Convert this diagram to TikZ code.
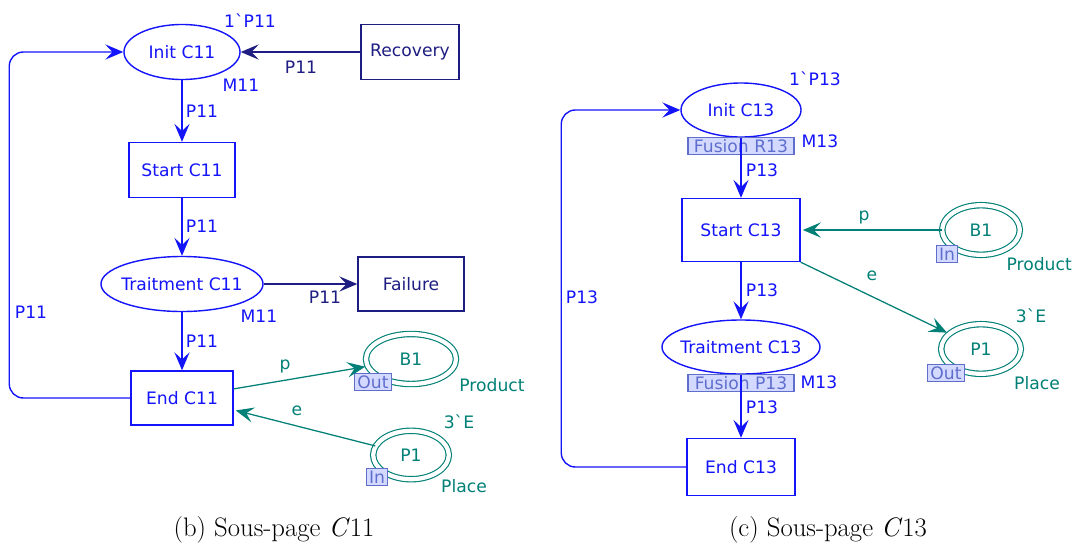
\documentclass[tikz,border=0pt]{standalone}
\usepackage{fontspec}
\newfontfamily\cpnfont{DejaVu Sans}[Ligatures=TeXOff]
\usepackage{tikz}
\usetikzlibrary{shapes.geometric, arrows.meta, positioning, calc}
\definecolor{CPNBlue}{RGB}{20, 20, 250}
\definecolor{CPNNavy}{RGB}{30, 30, 130}
\definecolor{CPNTeal}{RGB}{0, 128, 118}
\definecolor{CPNTagFill}{RGB}{212, 218, 255}
\definecolor{CPNTagLine}{RGB}{95, 110, 205}

\tikzset{
  cpn/.style={font=\cpnfont\fontsize{12.2}{14}\selectfont},
  place/.style={cpn, ellipse, draw=CPNBlue, line width=1pt, text=CPNBlue, inner xsep=-0.4cm, inner ysep=0pt},
  trans/.style={cpn, rectangle, draw=CPNBlue, line width=1pt, text=CPNBlue, inner sep=0pt},
  navytrans/.style={trans, draw=CPNNavy, text=CPNNavy},
  portplace/.style={cpn, ellipse, draw=CPNTeal, double=white, double distance=3pt,
                    line width=0.8pt, text=CPNTeal, inner sep=0pt},
  porttag/.style={cpn, draw=CPNTagLine, fill=CPNTagFill, text=CPNTagLine, line width=0.8pt,
                  inner xsep=2pt, inner ysep=0pt, minimum height=0.43cm},
  arc/.style={draw=CPNBlue, line width=1pt, -{Stealth[length=4.5mm, width=3.8mm, inset=1.8mm]}},
  navyarc/.style={arc, draw=CPNNavy, fill=CPNNavy},
  tealarc/.style={arc, draw=CPNTeal, line width=0.9pt, shorten >=1.5pt},
  lbl/.style={cpn, text=CPNBlue, inner sep=0pt},
  navylbl/.style={lbl, text=CPNNavy},
  teallbl/.style={lbl, text=CPNTeal},
  caption/.style={font=\fontsize{19}{23}\selectfont, inner sep=0pt}
}

\begin{document}
\begin{tikzpicture}[x=0.025cm, y=-0.025cm]
  \useasboundingbox (0,0) rectangle (1074,548);

  % Sous-page C11
  \node[place, minimum width=2.9cm, minimum height=1.375cm] (i11) at (182,52) {Init C11};
  \node[navytrans, minimum width=2.45cm, minimum height=1.375cm] (rec) at (410,52) {Recovery};
  \node[trans, minimum width=2.65cm, minimum height=1.375cm] (s11) at (182,170) {Start C11};
  \node[place, minimum width=4.05cm, minimum height=1.375cm] (t11) at (182,284) {Traitment C11};
  \node[navytrans, minimum width=2.65cm, minimum height=1.35cm] (f11) at (411,284) {Failure};
  \node[trans, minimum width=2.55cm, minimum height=1.35cm] (e11) at (182,398) {End C11};
  \node[portplace, minimum width=2.25cm, minimum height=1.25cm] (b11) at (411,359) {B1};
  \node[portplace, minimum width=1.89cm, minimum height=1.21cm] (p11) at (411,455) {P1};
  \node[porttag] (b11tag) at (373,382) {Out};
  \node[porttag] (p11tag) at (377,477) {In};

  \draw[navyarc] (rec) -- (i11);
  \draw[arc] (i11) -- (s11);
  \draw[arc] (s11) -- (t11);
  \draw[navyarc] (t11) -- (f11);
  \draw[arc] (t11) -- (e11);
  \draw[arc, rounded corners=10pt] (e11.west) -- ++(-121,0) |- (i11.west);
  \draw[tealarc] (e11.10) -- (b11);
  \draw[tealarc] (p11) -- (e11.-13);

  \node[lbl] at (250,21) {1\textasciigrave P11};
  \node[lbl] at (241,85) {M11};
  \node[navylbl] at (301,67) {P11};
  \node[lbl] at (202,111) {P11};
  \node[lbl] at (202,226) {P11};
  \node[lbl] at (259,316) {M11};
  \node[navylbl] at (325,297) {P11};
  \node[lbl] at (202,341) {P11};
  \node[lbl] at (31,312) {P11};
  \node[teallbl] at (285,366) {p};
  \node[teallbl] at (297,411) {e};
  \node[teallbl] at (492,385) {Product};
  \node[teallbl] at (459,422) {3\textasciigrave E};
  \node[teallbl] at (464,486) {Place};

  % Sous-page C13
  \node[place, minimum width=3cm, minimum height=1.35cm] (i13) at (741,110) {Init C13};
  \node[trans, minimum width=2.95cm, minimum height=1.575cm] (s13) at (741,230) {Start C13};
  \node[place, minimum width=3.95cm, minimum height=1.35cm] (t13) at (741,347) {Traitment C13};
  \node[trans, minimum width=2.7cm, minimum height=1.425cm] (e13) at (741,467) {End C13};
  \node[portplace, minimum width=1.94cm, minimum height=1.24cm] (b13) at (981,230) {B1};
  \node[portplace, minimum width=1.99cm, minimum height=1.24cm] (p13) at (981,349) {P1};
  \node[porttag, minimum width=2.65cm] (i13tag) at (741,146) {Fusion R13};
  \node[porttag, minimum width=2.65cm] (t13tag) at (741,383) {Fusion P13};
  \node[porttag] (b13tag) at (947,254) {In};
  \node[porttag] (p13tag) at (946,373) {Out};

  \draw[arc] (i13) -- (s13);
  \draw[arc] (s13) -- (t13);
  \draw[arc] (t13) -- (e13);
  \draw[arc, rounded corners=10pt] (e13.west) -- ++(-125,0) |- (i13.west);
  \draw[tealarc] (b13) -- (s13);
  \draw[tealarc] (s13.south east) -- (p13);

  \node[lbl] at (815,79) {1\textasciigrave P13};
  \node[lbl] at (820,141) {M13};
  \node[lbl] at (762,170) {P13};
  \node[lbl] at (762,290) {P13};
  \node[lbl] at (819,382) {M13};
  \node[lbl] at (762,407) {P13};
  \node[lbl] at (582,297) {P13};
  \node[teallbl] at (864,217) {p};
  \node[teallbl] at (872,276) {e};
  \node[teallbl, anchor=east] at (1072,264) {Product};
  \node[teallbl] at (1031,316) {3\textasciigrave E};
  \node[teallbl] at (1037,383) {Place};

  \node[caption] (capb) at (274,530) {(b) Sous-page \textit{C}11};
  \node[caption] (capc) at (828,530) {(c) Sous-page \textit{C}13};
\end{tikzpicture}
\end{document}
